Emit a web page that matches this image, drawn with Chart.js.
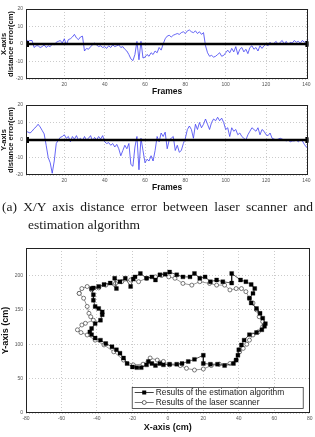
<!DOCTYPE html>
<html><head><meta charset="utf-8">
<script src="https://cdn.jsdelivr.net/npm/chart.js@4/dist/chart.umd.min.js"></script>
<style>
html,body{margin:0;padding:0;background:#fff;width:315px;height:437px;overflow:hidden;position:relative;}
.cv{position:absolute;left:0;}
.cap{position:absolute;font-family:"Liberation Serif","Times New Roman",serif;font-size:13.5px;line-height:18px;color:#1a1a1a;white-space:nowrap;}
#cap1{left:2px;top:198px;width:311px;text-align:justify;text-align-last:justify;white-space:normal;}
#cap2{left:28px;top:216px;}
</style></head>
<body>
<div class="cv" style="top:0;width:315px;height:101px;"><canvas id="c1"></canvas></div>
<div class="cv" style="top:96px;width:315px;height:101px;"><canvas id="c2"></canvas></div>
<div class="cap" id="cap1">(a) X/Y axis distance error between laser scanner and</div>
<div class="cap" id="cap2">estimation algorithm</div>
<div class="cv" style="top:235px;width:315px;height:202px;"><canvas id="c3"></canvas></div>
<script>
// ---------- data ----------
const frameTicks = [20, 40, 60, 80, 100, 120, 140];
const errTicks = [-20, -10, 0, 10, 20];
const xErr = [3, 1.5, 2, 2, -2, -1, -1, -2, -1.5, -0.5,
  -2, -1, -1.5, 0, -0.5, 1, 1.5, 2, 0.5, 3,
  -0.5, 2.5, 3, 4, 5.5, 3.5, 2.5, 4, 4.5, -4,
  -2.5, -3, -1.5, -0.5, 0.5, -0.5, -1.5, -1, -2, -1.5,
  -2.5, -1, -2, -0.5, -1.5, -1, -0.5, -2, -1.5, -3,
  -4, -6, -8.5, -9.5, -6, 1.5, -9, 1.5, -8, -7.5,
  -6, -7, -5, -6, -4, -5, -2, -3.5, 0, 3,
  4.5, 5, 4, 5, 5.5, 6, 5.5, 6.5, 7, 6,
  7.5, 8, 7, 6.5, 7.5, 6, 7, 5.5, 6.5, -1,
  -5, -7, -6.5, -7.5, -7, -6, -5, -7, -6.5, -5,
  -3.5, -5, -2.5, -4.5, -1.5, -6, -3, -2, -4.5, -3,
  -5.5, -2, -1, -3, -2, -4, -1, -2.5, -1, 0,
  -1, 1, -0.5, 0.5, 1.5, -0.5, 1, 2, 0, 1.5,
  -0.5, 1, 0.5, 2, 1, 1.5, 0.5, 2, 1, 1.5, 2.5];
const yErr = [5, 4.5, 4, 5, 6.5, 7.5, 9, 7.5, 5.5, 3.5,
  -3, -10, -13, -19, -12, -2, 0, 1.5, 2, 3,
  1, 2, -1, 2, 0.5, 2.5, 0, 1, -0.5, 2,
  0, 1, 2.5, -0.5, 1.5, 0, 2, 0.5, 2.5,
  -1, -2, -1.5, -3, -2, -4, -2.5, -5,
  -9, -6, -3, -5, -2, -14, -15, -4, 2, -17,
  1, -6, -13, -11, -12, -9, -12, -6, 2, -1,
  4, 2, 4.5, -5, 0, 1, 2, -6, -3, -7,
  -6, -2, 1, 6, 8, 6, 1, 9, 6, 10,
  7, 9, 12, 9, 6, 10, 12, 11, 13, 11,
  12.5, 10, 6, 7, 2, 7, 5, 6, 3, 4,
  2, 1, 0, 3, 5, 7, 6, 5, 7, 3,
  6, 5, 3, 2.5, 4, 1, 0.5,
  0, 0.5, 1, 0.5, 0, -0.5, 0, -1, -0.5, -0.5, 0, -1, 0, -0.5, -2.5, -4, -5];
const frames = xErr.map((_, i) => i + 1);
const zeroRef = [0, 0];

const estX = [-43,-42,-42,-41,-39,-37,-37,-38,-41,-43,-44,-43,-41,-38,-35,-31.5,-29,-27,-25,-23,
  -20,-17.5,-15,-12,-11,-9,-7,-4.5,-2.5,1,5,8,11.5,15,20,20,24,28,32,37,
  38.5,39.5,40,41.5,43,46,50,53,54.5,55,53.5,52,50,47,46,48,49,47,44,41,
  36,36,31,27.5,24,21,18,15,12.5,8.5,5,1,-1.5,-4.5,-7,-9,-12,-15.5,-18.5,-19.5,
  -21,-24,-27,-30,-29,-32.5,-36,-39,-42];
const estY = [181,172,164,155,152,147,143,135,130,123,118,114,109,106,101,96.5,92,87,80,72,
  67,66,66,70,75,72,69,72,70,71,71,72,75,78,84,72,71,71,69,72,
  77,84,92,99,106,114,117,121,126,130,138,145,152,160,167,174,181,187,191,193.5,
  203,189,191,193.5,191,198,196,203,198,198,201,205,202,201,193.5,198,196,203,198,195,
  184,196,191,196,181,189,187,184,182];
const laserX = [-50,-47.5,-45.5,-44.5,-43.5,-42,-46.5,-48.5,-51,-49,-45.5,-41,-36,-30.5,-25,-19.5,-14,-10,-6,-2.5,
  1,7,10.5,15,20,24.5,29,35,38.5,40.5,42.5,44.5,46,48,51,53.5,53.5,51.5,50,48,
  46,44,41.5,38.5,35,32,27.5,23.5,18,13.5,8.5,4,0.5,-3.5,-7,-12,-16.5,-21,-26,-29.5,
  -35,-39,-43,-45.5,-48.5,-50];
const laserY = [174,167,155,145,140,135,130.5,128,121,117,113.5,106,99,89,77,70,71,80,77,75,
  70,69,65,62.5,64,69,71,72,77,89,94,100,106,113.5,118,125.5,133,140,150,160,
  167,176.5,181,181,179,186,186,188.5,191,186,188.5,196,198,200,198,196,191,193.5,191,188.5,
  186,182,179,184,181,174];
const posXTicks = [-80, -60, -40, -20, 0, 20, 40, 60, 80];
const posYTicks = [0, 50, 100, 150, 200];
const legendLabels = ['Results of the estimation algorithm', 'Results of the laser scanner'];

// ---------- helpers ----------
const boxPlugin = {
  id: 'box',
  afterDraw(chart) {
    const {ctx, chartArea: a} = chart;
    ctx.save();
    ctx.strokeStyle = '#222';
    ctx.lineWidth = 1;
    ctx.strokeRect(Math.round(a.left) + 0.5, Math.round(a.top) + 0.5, Math.round(a.right - a.left) - 1, Math.round(a.bottom - a.top) - 1);
    ctx.restore();
  }
};
const tickFont = {family: 'Liberation Sans, Arial, sans-serif', size: 5};
const gridCfg = {color: '#a8a8a8', lineWidth: 0.6, drawTicks: false};
const borderCfg = {display: false, dash: [1, 2]};

function errChart(id, values, titleLines) {
  return new Chart(document.getElementById(id), {
    type: 'line',
    data: {
      datasets: [
        {data: frames.map((f, i) => ({x: f, y: values[i]})), borderColor: '#3f3ff2', borderWidth: 0.8,
         pointRadius: 0, tension: 0, order: 2},
        {data: [{x: frames[0], y: zeroRef[0]}, {x: frames[frames.length - 1], y: zeroRef[1]}],
         borderColor: '#000', borderWidth: 2.6, pointStyle: 'rect', pointRadius: 2.4,
         pointBackgroundColor: '#000', pointBorderColor: '#000', order: 1}
      ]
    },
    options: {
      responsive: true, maintainAspectRatio: false, animation: false,
      layout: {padding: {top: 9, right: 4, left: 0, bottom: 0}},
      plugins: {legend: {display: false}, tooltip: {enabled: false}},
      scales: {
        x: {type: 'linear', min: frames[0], max: frames[frames.length - 1],
            afterBuildTicks: s => { s.ticks = frameTicks.map(v => ({value: v})); },
            afterFit: s => { s.height = 22; },
            grid: gridCfg, border: borderCfg,
            ticks: {font: tickFont, color: '#555', padding: 2.5, maxRotation: 0, autoSkip: false},
            title: {display: true, text: 'Frames', color: '#111', padding: {top: 0, bottom: 4},
                    font: {family: 'Liberation Sans, Arial, sans-serif', size: 8.5, weight: 'bold'}}},
        y: {type: 'linear', min: errTicks[0], max: errTicks[errTicks.length - 1],
            afterBuildTicks: s => { s.ticks = errTicks.map(v => ({value: v})); },
            afterFit: s => { s.width = 26; },
            grid: gridCfg, border: borderCfg,
            ticks: {font: tickFont, color: '#555', padding: 3},
            title: {display: true, text: titleLines, color: '#111', padding: {top: 0, bottom: 0},
                    font: {family: 'Liberation Sans, Arial, sans-serif', size: 7.5, weight: 'bold', lineHeight: 1.0}}}
      }
    },
    plugins: [boxPlugin]
  });
}
errChart('c1', xErr, ['X-axis', 'distance error(cm)']);
errChart('c2', yErr, ['Y-axis', 'distance error(cm)']);

const legendPlugin = {
  id: 'inlegend',
  afterDraw(chart) {
    const {ctx, chartArea: a} = chart;
    const L = a.right - 178, T = a.bottom - 26, W = 171, H = 21;
    ctx.save();
    ctx.fillStyle = '#fff';
    ctx.fillRect(L, T, W, H);
    ctx.strokeStyle = '#333';
    ctx.lineWidth = 0.8;
    ctx.strokeRect(L + 0.5, T + 0.5, W, H);
    const rows = [T + 5.5, T + 15.5];
    chart.data.datasets.forEach((ds, i) => {
      const y = rows[i];
      ctx.strokeStyle = ds.borderColor; ctx.lineWidth = 0.8;
      ctx.beginPath(); ctx.moveTo(L + 3, y); ctx.lineTo(L + 22, y); ctx.stroke();
      const cx = L + 12.5;
      if (ds.pointStyle === 'rect') {
        ctx.fillStyle = '#000'; ctx.fillRect(cx - 2, y - 2, 4, 4);
      } else {
        ctx.fillStyle = '#fff'; ctx.strokeStyle = ds.pointBorderColor; ctx.lineWidth = 0.8;
        ctx.beginPath(); ctx.arc(cx, y, 2, 0, Math.PI * 2); ctx.fill(); ctx.stroke();
      }
      ctx.fillStyle = '#222';
      ctx.font = '8.4px "Liberation Sans", Arial, sans-serif';
      ctx.textBaseline = 'middle'; ctx.textAlign = 'left';
      ctx.fillText(ds.label, L + 24, y + 0.5);
    });
    ctx.restore();
  }
};

new Chart(document.getElementById('c3'), {
  type: 'scatter',
  data: {
    datasets: [
      {label: legendLabels[0], data: estX.map((x, i) => ({x, y: estY[i]})), showLine: true,
       borderColor: '#111', borderWidth: 0.7, pointStyle: 'rect', pointRadius: 2.8,
       pointBackgroundColor: '#000', pointBorderColor: '#000', pointBorderWidth: 0.3},
      {label: legendLabels[1], data: laserX.map((x, i) => ({x, y: laserY[i]})), showLine: true,
       borderColor: '#555', borderWidth: 0.6, pointStyle: 'circle', pointRadius: 2,
       pointBackgroundColor: '#fff', pointBorderColor: '#444', pointBorderWidth: 0.7}
    ]
  },
  options: {
    responsive: true, maintainAspectRatio: false, animation: false,
    layout: {padding: {top: 13, right: 4, left: 0, bottom: 0}},
    plugins: {legend: {display: false}, tooltip: {enabled: false}},
    scales: {
      x: {type: 'linear', min: posXTicks[0], max: posXTicks[posXTicks.length - 1],
          afterBuildTicks: s => { s.ticks = posXTicks.map(v => ({value: v})); },
          afterFit: s => { s.height = 24; },
          grid: gridCfg, border: borderCfg,
          ticks: {font: tickFont, color: '#555', padding: 2.5, maxRotation: 0, autoSkip: false},
          title: {display: true, text: 'X-axis (cm)', color: '#111', padding: {top: 0, bottom: 4},
                  font: {family: 'Liberation Sans, Arial, sans-serif', size: 9, weight: 'bold'}}},
      y: {type: 'linear', min: 0, max: 240,
          afterBuildTicks: s => { s.ticks = posYTicks.map(v => ({value: v})); },
          afterFit: s => { s.width = 26; },
          grid: gridCfg, border: borderCfg,
          ticks: {font: tickFont, color: '#555', padding: 3},
          title: {display: true, text: 'Y-axis (cm)', color: '#111', padding: {top: 0, bottom: 0},
                  font: {family: 'Liberation Sans, Arial, sans-serif', size: 9, weight: 'bold'}}}
    }
  },
  plugins: [boxPlugin, legendPlugin]
});
</script>
</body></html>
